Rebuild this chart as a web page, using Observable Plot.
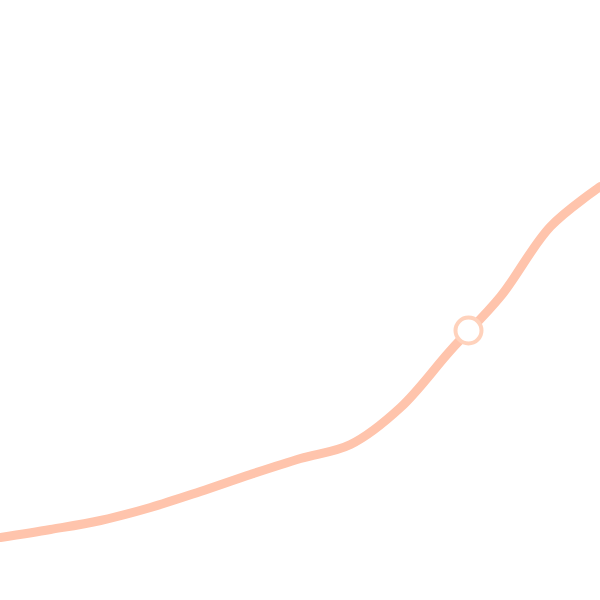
<!DOCTYPE html>
<html>
<head>
<meta charset="utf-8">
<script src="https://cdn.jsdelivr.net/npm/d3@7"></script>
<script src="https://cdn.jsdelivr.net/npm/@observablehq/plot@0.6"></script>
<style>
  html, body { margin: 0; padding: 0; background: #ffffff; }
  #chart svg { display: block; }
</style>
</head>
<body>
<div id="chart"></div>
<script>
// Series (x steps, y values)
const xs = [0, 1, 2, 3, 4, 5, 6, 7, 8, 9, 10, 11, 12];
const ys = [63, 71, 80, 93, 109, 126, 142, 156, 193, 250, 304, 374, 414];
// Highlighted point
const markX = [9.36];
const markY = [270];

const series = xs.map((x, i) => ({x, y: ys[i]}));
const marks = markX.map((x, i) => ({x, y: markY[i]}));

const chart = Plot.plot({
  width: 600,
  height: 600,
  margin: 0,
  x: {domain: [0, 12], axis: null},
  y: {domain: [0, 600], axis: null},
  marks: [
    Plot.line(series, {x: "x", y: "y", stroke: "#ffc4ac", strokeWidth: 9, curve: "catmull-rom"}),
    Plot.dot(marks, {x: "x", y: "y", r: 13, fill: "#ffffff", stroke: "#ffd2bc", strokeWidth: 4})
  ]
});
document.getElementById("chart").append(chart);
</script>
</body>
</html>
